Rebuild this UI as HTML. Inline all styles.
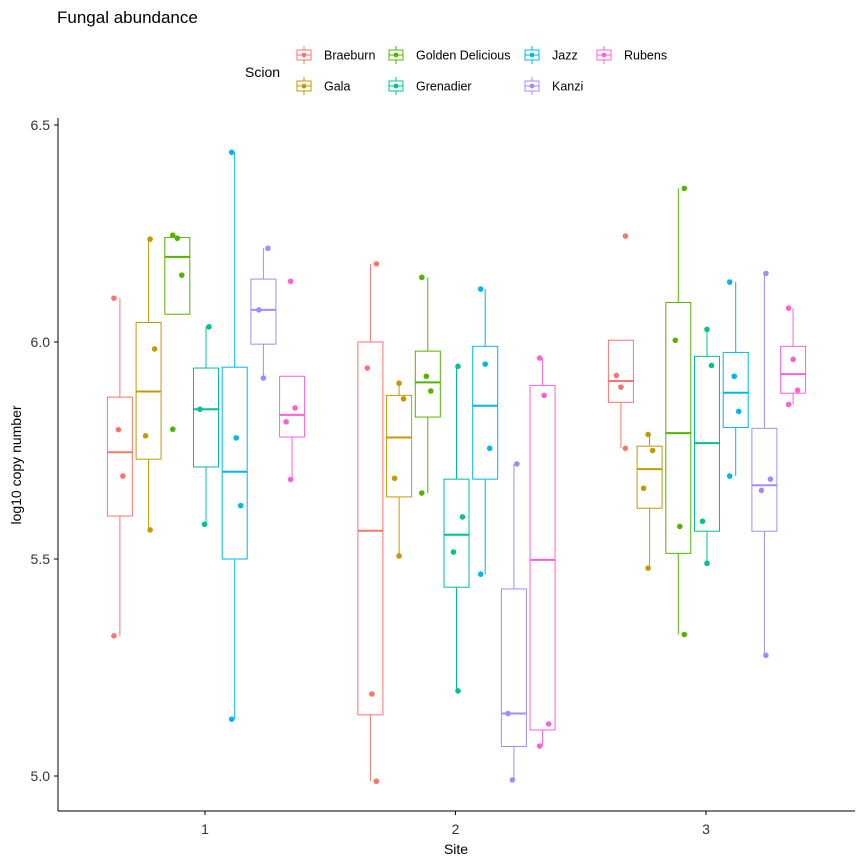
<!DOCTYPE html>
<html><head><meta charset="utf-8"><style>
body{margin:0;background:#fff;}
svg{display:block;font-family:"Liberation Sans",sans-serif;}
</style></head><body>
<svg id="c" width="864" height="864">
<text x="57" y="23" font-size="17" fill="#000">Fungal abundance</text>
<text x="245" y="77" font-size="14" fill="#000">Scion</text>
<g id="legend"></g>
<g id="plot"></g>
<line x1="58" y1="118" x2="58" y2="811" stroke="#000" stroke-width="1"/>
<line x1="58" y1="811" x2="855" y2="811" stroke="#000" stroke-width="1"/>
<g id="axes"></g>
<text x="456" y="854" font-size="14" text-anchor="middle">Site</text>
<text transform="translate(21,465) rotate(-90)" font-size="14" text-anchor="middle">log10 copy number</text>
</svg>
<script>
const sites=["1","2","3"];
const scions=["Braeburn","Gala","Golden Delicious","Grenadier","Jazz","Kanzi","Rubens"];
const colors=["#F8766D","#C49A00","#53B400","#00C094","#00B6EB","#A58AFF","#FB61D7"];
const yTicks=[5.0,5.5,6.0,6.5];
// [lo, q1, med, q3, hi] per site per scion
const stats1=[[5.323,5.599,5.746,5.873,6.101],[5.567,5.730,5.886,6.045,6.237],[6.064,6.064,6.196,6.241,6.246],[5.580,5.712,5.845,5.940,6.035],[5.131,5.500,5.701,5.942,6.437],[5.917,5.995,6.074,6.145,6.216],[5.683,5.781,5.832,5.921,5.921]];
const stats2=[[4.988,5.141,5.565,6.000,6.180],[5.507,5.643,5.780,5.877,5.905],[5.652,5.827,5.907,5.979,6.149],[5.196,5.435,5.556,5.684,5.944],[5.465,5.684,5.853,5.990,6.122],[4.991,5.068,5.144,5.431,5.719],[5.069,5.106,5.498,5.900,5.963]];
const stats3=[[5.755,5.861,5.910,6.004,6.004],[5.479,5.617,5.707,5.760,5.787],[5.326,5.513,5.790,6.091,6.354],[5.490,5.564,5.767,5.967,6.029],[5.691,5.803,5.883,5.976,6.138],[5.278,5.564,5.670,5.801,6.158],[5.856,5.882,5.926,5.990,6.078]];
const pts1=[[6.101,5.798,5.691,5.323],[6.237,5.984,5.784,5.567],[6.246,6.239,6.154,5.799],[6.035,5.845,5.580],[6.437,5.779,5.623,5.131],[6.216,6.074,5.917],[6.140,5.848,5.816,5.683]];
const pts2=[[6.180,5.940,5.189,4.988],[5.905,5.869,5.686,5.507],[6.149,5.921,5.887,5.652],[5.944,5.597,5.516,5.196],[6.122,5.949,5.755,5.465],[5.719,5.144,4.991],[5.963,5.877,5.120,5.069]];
const pts3=[[6.244,5.923,5.896,5.755],[5.787,5.750,5.663,5.479],[6.354,6.004,5.575,5.326],[6.029,5.946,5.587,5.490],[6.138,5.921,5.840,5.691],[6.158,5.684,5.658,5.278],[6.078,5.960,5.889,5.856]];
const allStats=[stats1,stats2,stats3], allPts=[pts1,pts2,pts3];
const NS="http://www.w3.org/2000/svg";
const y=v=>342-(v-6)*434;
const x=(s,i)=>206+s*250.5+(i-3)*28.7;
function mk(tag,attrs,parent){const e=document.createElementNS(NS,tag);for(const k in attrs)e.setAttribute(k,attrs[k]);parent.appendChild(e);return e;}
const plot=document.getElementById('plot'),axes=document.getElementById('axes'),leg=document.getElementById('legend');
yTicks.forEach(t=>{
  const l=mk('line',{x1:54,x2:58,y1:y(t),y2:y(t),stroke:'#000'},axes);
  
  
  const tx=mk('text',{x:50,y:y(t)+5,'font-size':14,'text-anchor':'end',fill:'#333'},axes);
  tx.textContent=t.toFixed(1);
  
  
});
sites.forEach((s,si)=>{
  const cx=205+si*250.5;
  const l=mk('line',{x1:cx,x2:cx,y1:811,y2:815,stroke:'#000'},axes);
  
  
  const tx=mk('text',{x:cx,y:834,'font-size':14,'text-anchor':'middle',fill:'#333'},axes);
  tx.textContent=s;
  
  
});
const bw=25;
allStats.forEach((st,si)=>{
  st.forEach((b,i)=>{
    const c=colors[i],cx=x(si,i);
    const g=mk('g',{},plot);
    
    
    mk('line',{x1:cx,x2:cx,y1:y(b[0]),y2:y(b[1]),stroke:c,'stroke-width':1},g);
    mk('line',{x1:cx,x2:cx,y1:y(b[3]),y2:y(b[4]),stroke:c,'stroke-width':1},g);
    mk('rect',{x:cx-bw/2,y:y(b[3]),width:bw,height:y(b[1])-y(b[3]),fill:'#fff',stroke:c,'stroke-width':1},g);
    mk('line',{x1:cx-bw/2,x2:cx+bw/2,y1:y(b[2]),y2:y(b[2]),stroke:c,'stroke-width':2},g);
    allPts[si][i].forEach((v,k)=>{
      const j=(((si*7+i)*5+k*3)%9-4)*1.5;
      const p=mk('circle',{cx:cx+j,cy:y(v),r:2.8,fill:c},plot);
      
      
    });
  });
});
const legPos=[[296,55],[296,86],[388,55],[388,86],[524,55],[524,86],[596,55]];
scions.forEach((s,i)=>{
  const [lx,ly]=legPos[i],c=colors[i];
  const g=mk('g',{},leg);
  
  
  mk('line',{x1:lx+8,x2:lx+8,y1:ly-9,y2:ly+9,stroke:c},g);
  mk('rect',{x:lx+1,y:ly-5,width:14,height:10,fill:'#fff',stroke:c},g);
  mk('line',{x1:lx+1,x2:lx+15,y1:ly,y2:ly,stroke:c},g);
  mk('circle',{cx:lx+8,cy:ly,r:2.4,fill:c},g);
  const t=mk('text',{x:lx+28,y:ly+4.5,'font-size':12.5,fill:'#000'},g);
  t.textContent=s;
});
</script>
</body></html>
